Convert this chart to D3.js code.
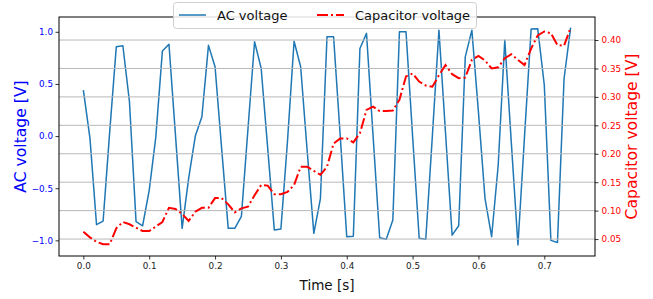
<!DOCTYPE html>
<html>
<head>
<meta charset="utf-8">
<script src="https://cdn.jsdelivr.net/npm/d3@7"></script>
<style>
body { margin: 0; background: white; }
svg { display: block; font-family: "DejaVu Sans", sans-serif; }
</style>
</head>
<body>
<div id="chart"></div>
<script>
// chart data, sampled every 0.01 s

var time = [0.00, 0.01, 0.02, 0.03, 0.04, 0.05, 0.06, 0.07, 0.08, 0.09,
	0.10, 0.11, 0.12, 0.13, 0.14, 0.15, 0.16, 0.17, 0.18, 0.19,
	0.20, 0.21, 0.22, 0.23, 0.24, 0.25, 0.26, 0.27, 0.28, 0.29,
	0.30, 0.31, 0.32, 0.33, 0.34, 0.35, 0.36, 0.37, 0.38, 0.39,
	0.40, 0.41, 0.42, 0.43, 0.44, 0.45, 0.46, 0.47, 0.48, 0.49,
	0.50, 0.51, 0.52, 0.53, 0.54, 0.55, 0.56, 0.57, 0.58, 0.59,
	0.60, 0.61, 0.62, 0.63, 0.64, 0.65, 0.66, 0.67, 0.68, 0.69,
	0.70, 0.71, 0.72, 0.73, 0.74];

var acVoltage = [0.44, -0.02, -0.85, -0.815, 0.04, 0.856, 0.866, 0.33, -0.82, -0.86,
	-0.52, -0.01, 0.815, 0.88, 0.0, -0.885, -0.40, 0.0, 0.185, 0.87,
	0.665, -0.12, -0.885, -0.885, -0.77, 0.07, 0.905, 0.65, -0.12, -0.90,
	-0.89, -0.05, 0.91, 0.665, -0.15, -0.933, -0.60, 0.952, 0.952, 0.01,
	-0.965, -0.96, 0.84, 0.985, 0.0, -0.975, -0.99, -0.805, 1.0, 1.0,
	0.0, -0.98, -0.99, 0.0, 1.016, 0.03, -0.95, -0.86, 0.76, 1.016,
	0.23, -0.60, -0.965, -0.28, 0.92, -0.07, -1.045, 0.0, 1.026, 1.03,
	0.49, -1.0, -1.02, 0.55, 1.04];

var capVoltage = [0.063, 0.053, 0.045, 0.041, 0.041, 0.069, 0.080, 0.076, 0.070, 0.064,
	0.064, 0.072, 0.080, 0.105, 0.103, 0.094, 0.082, 0.098, 0.105, 0.105,
	0.122, 0.122, 0.111, 0.097, 0.104, 0.107, 0.127, 0.145, 0.144, 0.129,
	0.129, 0.133, 0.145, 0.177, 0.177, 0.170, 0.163, 0.177, 0.218, 0.227,
	0.227, 0.220, 0.236, 0.277, 0.283, 0.275, 0.275, 0.276, 0.295, 0.336,
	0.341, 0.327, 0.320, 0.318, 0.338, 0.356, 0.340, 0.333, 0.334, 0.365,
	0.372, 0.364, 0.350, 0.352, 0.368, 0.375, 0.365, 0.356, 0.385, 0.408,
	0.415, 0.412, 0.391, 0.390, 0.422];

var xTicks = [0.0, 0.1, 0.2, 0.3, 0.4, 0.5, 0.6, 0.7];
var acTicks = [-1.0, -0.5, 0.0, 0.5, 1.0];
var capTicks = [0.05, 0.10, 0.15, 0.20, 0.25, 0.30, 0.35, 0.40];

var seriesNames = ["AC voltage", "Capacitor voltage"];

// svg parameters
var svgWidth = 653;
var svgHeight = 299;
var padding = {"top": 17, "bottom": 43, "left": 59, "right": 58};

var svg = d3.select("#chart").append("svg")
	.attr("width", svgWidth)
	.attr("height", svgHeight);

var xScale = d3.scaleLinear().domain([-0.037, 0.777]).range([padding.left, svgWidth - padding.right]);
var yScale = d3.scaleLinear().domain([-1.15, 1.142]).range([svgHeight - padding.bottom, padding.top]);
var y2Scale = d3.scaleLinear().domain([0.0202, 0.4405]).range([svgHeight - padding.bottom, padding.top]);

var data = time.map(function(t, i) { return {t: t, ac: acVoltage[i], cap: capVoltage[i]}; });

// AC voltage line (first axes)
var acLine = d3.line()
	.x(function(d) { return xScale(d.t); })
	.y(function(d) { return yScale(d.ac); });

svg.append("path")
	.datum(data)
	.attr("d", acLine)
	.attr("fill", "none")
	.attr("stroke", "#1f77b4")
	.attr("stroke-width", 1.5)
	.attr("stroke-linejoin", "round");

// grid from the twin axis
svg.append("g").selectAll("line")
	.data(capTicks)
	.enter()
	.append("line")
	.attr("x1", padding.left)
	.attr("x2", svgWidth - padding.right)
	.attr("y1", function(d) { return y2Scale(d); })
	.attr("y2", function(d) { return y2Scale(d); })
	.attr("stroke", "#b8b8b8")
	.attr("stroke-width", 1);

// capacitor voltage line (twin axes)
var capLine = d3.line()
	.x(function(d) { return xScale(d.t); })
	.y(function(d) { return y2Scale(d.cap); });

svg.append("path")
	.datum(data)
	.attr("d", capLine)
	.attr("fill", "none")
	.attr("stroke", "red")
	.attr("stroke-width", 2)
	.attr("stroke-dasharray", "11,3,2,3");

// Axis
var xAxis = d3.axisBottom(xScale).tickValues(xTicks).tickFormat(d3.format(".1f")).tickSizeOuter(0).tickSize(3.5).tickPadding(3);
svg.append("g")
	.attr("class", "xAxis")
	.attr("transform", "translate(0," + (svgHeight - padding.bottom) + ")")
	.call(xAxis);

var yAxis = d3.axisLeft(yScale).tickValues(acTicks).tickFormat(d3.format(".1f")).tickSizeOuter(0).tickSize(3.5).tickPadding(2.5);
svg.append("g")
	.attr("class", "yAxis")
	.attr("transform", "translate(" + padding.left + ",0)")
	.call(yAxis);

var y2Axis = d3.axisRight(y2Scale).tickValues(capTicks).tickFormat(d3.format(".2f")).tickSizeOuter(0).tickSize(3.5).tickPadding(3);
svg.append("g")
	.attr("class", "y2Axis")
	.attr("transform", "translate(" + (svgWidth - padding.right) + ",0)")
	.call(y2Axis);

svg.selectAll(".xAxis text, .yAxis text, .y2Axis text")
	.attr("font-size", 8.8)
	.attr("font-family", "DejaVu Sans");
svg.selectAll(".xAxis text").attr("fill", "#222");
svg.selectAll(".yAxis text").attr("fill", "blue");
svg.selectAll(".y2Axis text").attr("fill", "red");
svg.selectAll(".domain").remove();
svg.selectAll(".tick line").attr("stroke", "black").attr("stroke-width", 0.8);

// frame
svg.append("rect")
	.attr("x", padding.left)
	.attr("y", padding.top)
	.attr("width", svgWidth - padding.left - padding.right)
	.attr("height", svgHeight - padding.top - padding.bottom)
	.attr("fill", "none")
	.attr("stroke", "black")
	.attr("stroke-width", 1);

// labels
svg.append("text")
	.attr("x", (padding.left + svgWidth - padding.right) / 2)
	.attr("y", 290)
	.attr("text-anchor", "middle")
	.attr("font-size", 13.5)
	.attr("fill", "#111")
	.text("Time [s]");

var midY = (padding.top + svgHeight - padding.bottom) / 2;
svg.append("text")
	.attr("transform", "translate(26," + midY + ") rotate(-90)")
	.attr("text-anchor", "middle")
	.attr("font-size", 15.6)
	.attr("fill", "blue")
	.text("AC voltage [V]");

svg.append("text")
	.attr("transform", "translate(637," + midY + ") rotate(-90)")
	.attr("text-anchor", "middle")
	.attr("font-size", 15.6)
	.attr("fill", "red")
	.text("Capacitor voltage [V]");

// legend
var legend = svg.append("g").attr("id", "legend");
legend.append("rect")
	.attr("x", 173.5)
	.attr("y", 2.5)
	.attr("width", 303)
	.attr("height", 26)
	.attr("rx", 3)
	.attr("fill", "white")
	.attr("fill-opacity", 0.85)
	.attr("stroke", "#d0d0d0")
	.attr("stroke-width", 1);

var legendItems = [
	{name: seriesNames[0], color: "#1f77b4", width: 1.5, dash: null, x: 179},
	{name: seriesNames[1], color: "red", width: 2, dash: "11,3,2,3", x: 317}
];

legend.selectAll("line")
	.data(legendItems)
	.enter()
	.append("line")
	.attr("x1", function(d) { return d.x; })
	.attr("x2", function(d) { return d.x + 27; })
	.attr("y1", 15)
	.attr("y2", 15)
	.attr("stroke", function(d) { return d.color; })
	.attr("stroke-width", function(d) { return d.width; })
	.attr("stroke-dasharray", function(d) { return d.dash; });

legend.selectAll("text")
	.data(legendItems)
	.enter()
	.append("text")
	.attr("x", function(d) { return d.x + 38; })
	.attr("y", 19.7)
	.attr("font-size", 13)
	.attr("fill", "#111")
	.text(function(d) { return d.name; });
</script>
</body>
</html>
